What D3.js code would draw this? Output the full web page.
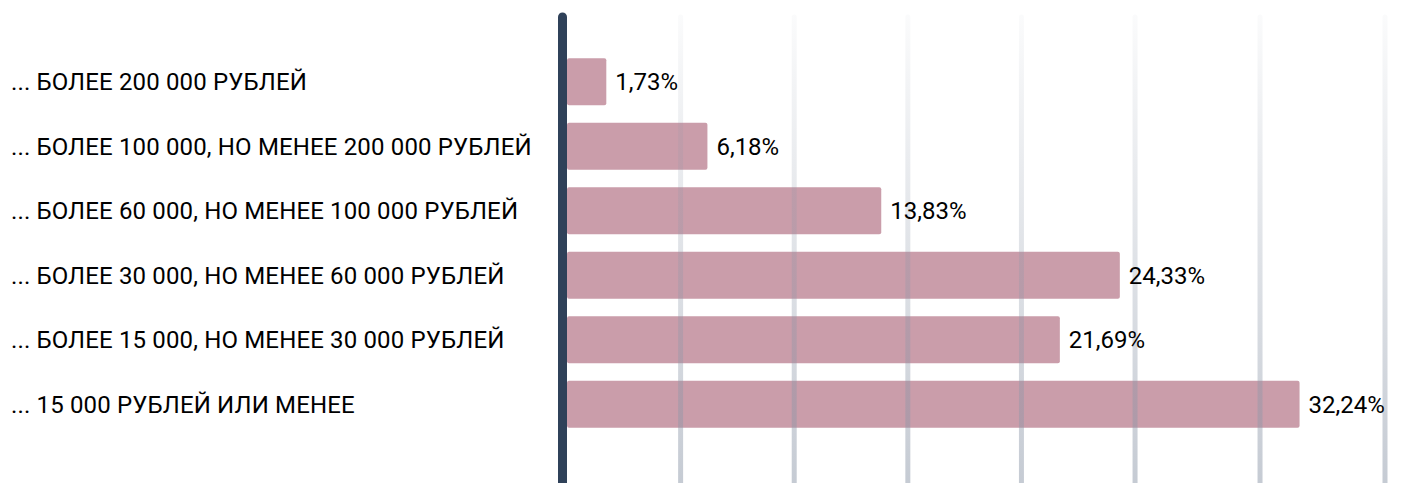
<!DOCTYPE html>
<html>
<head>
<meta charset="utf-8">
<script src="https://cdn.jsdelivr.net/npm/d3@7"></script>
<style>
    body { margin: 0; background: #fff; }
    text { font-family: Roboto, "Noto Sans", sans-serif; }
</style>
</head>
<body>
<div class="data_figure"></div>
<script>
const categories = [
    "... БОЛЕЕ 200 000 РУБЛЕЙ",
    "... БОЛЕЕ 100 000, НО МЕНЕЕ 200 000 РУБЛЕЙ",
    "... БОЛЕЕ 60 000, НО МЕНЕЕ 100 000 РУБЛЕЙ",
    "... БОЛЕЕ 30 000, НО МЕНЕЕ 60 000 РУБЛЕЙ",
    "... БОЛЕЕ 15 000, НО МЕНЕЕ 30 000 РУБЛЕЙ",
    "... 15 000 РУБЛЕЙ ИЛИ МЕНЕЕ"
];
const values = [1.73, 6.18, 13.83, 24.33, 21.69, 32.24];
const gridValues = [5, 10, 15, 20, 25, 30.5, 36];

const width = 1404;
const height = 483;

const barColor = "#ca9daa",
      axisColor = "#2f4159",
      gridColor = "#8c97a8";

const margin = {
    top: 49.5,
    bottom: 46.5,
    left: 567,
    right: 19,
}

const data = categories.map((c, i) => ({ label: c, value: values[i] }));

const xScale = d3.scaleLinear()
        .domain([0, 36])
        .range([margin.left, width - margin.right]);

const yScale = d3.scaleBand()
        .domain(categories)
        .range([margin.top, height - margin.bottom])
        .paddingInner(0.27)
        .paddingOuter(0.135);

const fmt = (v) => v.toFixed(2).replace(".", ",") + "%";

let svg = d3.select(".data_figure")
            .append("svg")
            .attr("width", width)
            .attr("height", height);

let defs = svg.append("defs");
let grad = defs.append("linearGradient")
            .attr("id", "gridFade")
            .attr("gradientUnits", "userSpaceOnUse")
            .attr("x1", 0).attr("y1", 15)
            .attr("x2", 0).attr("y2", height);
grad.append("stop").attr("offset", "0%").attr("stop-color", gridColor).attr("stop-opacity", 0.04);
grad.append("stop").attr("offset", "100%").attr("stop-color", gridColor).attr("stop-opacity", 0.5);

// bars
svg.selectAll(".bar")
    .data(data)
    .enter()
    .append("rect")
    .attr("class", "bar")
    .attr("x", xScale(0))
    .attr("y", (d) => yScale(d.label))
    .attr("width", (d) => xScale(d.value) - xScale(0))
    .attr("height", yScale.bandwidth())
    .attr("rx", 2)
    .attr("fill", barColor);

// grid lines on top of bars
svg.selectAll(".grid")
    .data(gridValues)
    .enter()
    .append("line")
    .attr("class", "grid")
    .attr("x1", (d) => xScale(d))
    .attr("x2", (d) => xScale(d))
    .attr("y1", 17)
    .attr("y2", height + 5)
    .attr("stroke", "url(#gridFade)")
    .attr("stroke-width", 5)
    .attr("stroke-linecap", "round");

// main axis line
svg.append("line")
    .attr("x1", xScale(0) - 4.5)
    .attr("x2", xScale(0) - 4.5)
    .attr("y1", 17)
    .attr("y2", height + 10)
    .attr("stroke", axisColor)
    .attr("stroke-width", 9)
    .attr("stroke-linecap", "round");

// category labels
svg.selectAll(".catLabel")
    .data(data)
    .enter()
    .append("text")
    .attr("class", "catLabel")
    .attr("x", 11)
    .attr("y", (d) => yScale(d.label) + yScale.bandwidth() / 2)
    .attr("dy", "0.35em")
    .text((d) => d.label)
    .style("font-size", "24px")
    .style("letter-spacing", "0.15px")
    .attr("fill", "#000");

// value labels
svg.selectAll(".valLabel")
    .data(data)
    .enter()
    .append("text")
    .attr("class", "valLabel")
    .attr("x", (d) => xScale(d.value) + 9)
    .attr("y", (d) => yScale(d.label) + yScale.bandwidth() / 2)
    .attr("dy", "0.35em")
    .text((d) => fmt(d.value))
    .style("font-size", "24px")
    .attr("fill", "#000");
</script>
</body>
</html>
